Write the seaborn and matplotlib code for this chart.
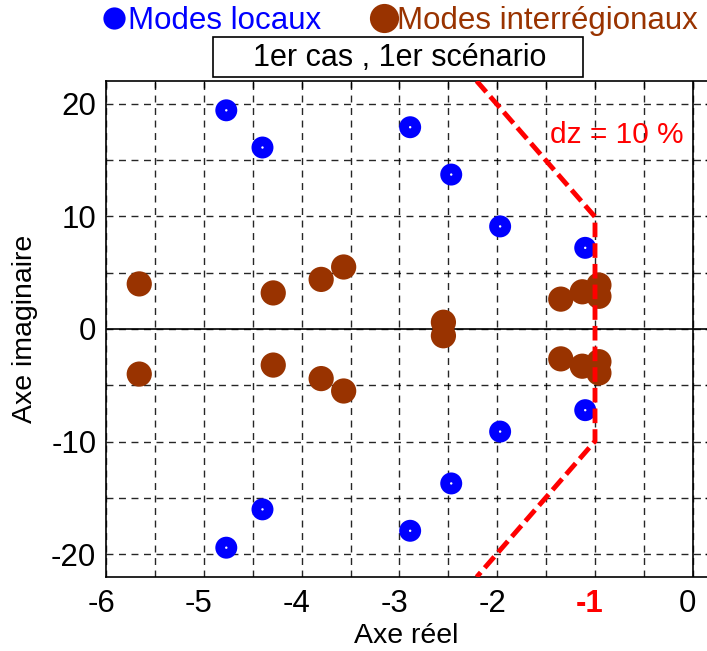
import numpy as np
import pandas as pd
import seaborn as sns
import matplotlib
matplotlib.use("Agg")
import matplotlib.pyplot as plt
from matplotlib.lines import Line2D
from matplotlib.patches import Rectangle
from matplotlib.transforms import ScaledTranslation

# ---- data ----
local_re = [-4.77, -4.40, -2.89, -2.47, -1.97, -1.10,
            -4.77, -4.40, -2.89, -2.47, -1.97, -1.10]
local_im = [19.4, 16.1, 17.9, 13.7, 9.1, 7.2,
            -19.4, -16.0, -17.9, -13.7, -9.1, -7.2]
inter_re = [-5.66, -4.29, -3.80, -3.57, -2.55, -1.35, -1.13, -0.96, -0.96,
            -5.66, -4.29, -3.80, -3.57, -2.55, -1.35, -1.13, -0.96, -0.96]
inter_im = [4.0, 3.2, 4.4, 5.5, 0.6, 2.65, 3.3, 3.9, 2.9,
            -4.0, -3.2, -4.4, -5.5, -0.6, -2.65, -3.3, -3.9, -2.9]
dz_re = [-2.21, -1.0, -1.0, -2.21]
dz_im = [22.0, 9.95, -9.95, -22.0]
x_ticks = [-6, -5, -4, -3, -2, -1, 0]
y_ticks = [-20, -10, 0, 10, 20]
title = "1er cas , 1er scénario"
labels = ["Modes locaux", "Modes interrégionaux"]

BLUE = "#0000FF"
BROWN = "#993300"
RED = "#FF0000"

sns.set_theme(style="white")
plt.rcParams["font.family"] = ["Liberation Sans", "DejaVu Sans"]

fig = plt.figure(figsize=(7.07, 6.51), dpi=100)
W, H = 707, 651
x0, x1 = 106, 106 + 6.2 * 97.8
ytop, ybot = 81, 577
ax = fig.add_axes([x0 / W, 1 - ybot / H, (x1 - x0) / W, (ybot - ytop) / H])

df_loc = pd.DataFrame({"re": local_re, "im": local_im})
df_int = pd.DataFrame({"re": inter_re, "im": inter_im})

ax.axhline(0, color="black", lw=1.2, zorder=1)
ax.axvline(0, color="black", lw=1.2, zorder=1)

sns.scatterplot(data=df_int, x="re", y="im", ax=ax, s=330, color=BROWN,
                edgecolor="none", zorder=3)
sns.scatterplot(data=df_loc, x="re", y="im", ax=ax, s=250, color=BLUE,
                edgecolor="none", zorder=3)
sns.scatterplot(data=df_loc, x="re", y="im", ax=ax, s=3, color="white",
                edgecolor="none", zorder=4)

ax.plot(dz_re, dz_im, color=RED, lw=3.5, ls=(0, (3, 1.25)), zorder=5,
        solid_capstyle="butt")
ax.text(-0.78, 17.2, "dz = 10 %", color=RED, fontsize=21.5, ha="center",
        va="center", zorder=6)

ax.set_xlim(-6, 0.2)
ax.set_ylim(-22, 22)
xt = np.arange(-6, 0.01, 0.5)
ax.set_xticks(xt)
ax.set_xticklabels([str(int(v)) if float(v).is_integer() else "" for v in xt])
yt = np.arange(-20, 21, 5)
ax.set_yticks(yt)
ax.set_yticklabels([str(int(v)) if v % 10 == 0 else "" for v in yt])
ax.tick_params(axis="both", direction="in", length=5, width=1, color="black",
               labelsize=22.5, top=True, right=True, labelcolor="black")
ax.tick_params(axis="x", pad=9)
ax.tick_params(axis="y", pad=7)
shift = ScaledTranslation(-5 / 100, 0, fig.dpi_scale_trans)
for lab in ax.get_xticklabels():
    lab.set_transform(lab.get_transform() + shift)
    if lab.get_text() == "-1":
        lab.set_color(RED)
        lab.set_fontweight("bold")

ax.grid(True, color="black", lw=1, ls=(0, (5, 4)), alpha=0.85)
ax.set_axisbelow(True)
for sp in ax.spines.values():
    sp.set_color("black")
    sp.set_linewidth(1.2)

ax.set_xlabel("Axe réel", fontsize=20.5, color="black", labelpad=3)
ax.xaxis.set_label_coords(406 / W, 1 - 636 / H, transform=fig.transFigure)
ax.set_ylabel("Axe imaginaire", fontsize=20.5, color="black")
ax.yaxis.set_label_coords(25 / W, 1 - 329 / H, transform=fig.transFigure)
ax.xaxis.label.set_va("center")
ax.yaxis.label.set_va("center")

# title box
fig.add_artist(Rectangle((213 / W, 1 - 77 / H), (583 - 213) / W, 40 / H,
                         transform=fig.transFigure, fc="white", ec="black",
                         lw=1.2))
fig.text(400 / W, 1 - 58 / H, title, fontsize=22, ha="center", va="center",
         color="black")

# legend at top
fig.add_artist(Line2D([114 / W], [1 - 18 / H], marker="o", ms=16, color=BLUE,
                      mec="none", transform=fig.transFigure))
fig.text(128 / W, 1 - 21 / H, labels[0], fontsize=22.5, color=BLUE,
         ha="left", va="center")
fig.add_artist(Line2D([384 / W], [1 - 18 / H], marker="o", ms=21, color=BROWN,
                      mec="none", transform=fig.transFigure))
fig.text(397 / W, 1 - 21 / H, labels[1], fontsize=22.5, color=BROWN,
         ha="left", va="center")

fig.savefig("out.png", dpi=100, facecolor="white")
